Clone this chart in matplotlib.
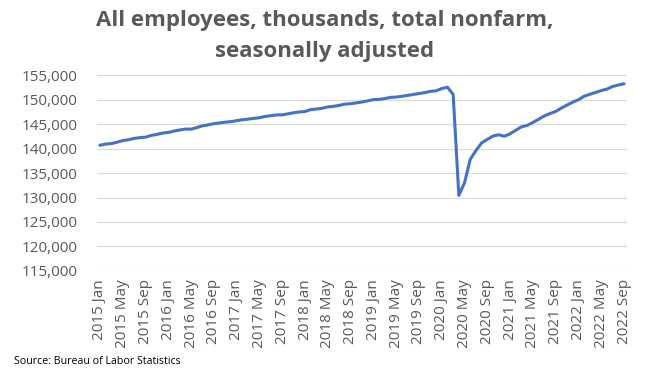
import matplotlib.pyplot as plt
import numpy as np

# total nonfarm employment, thousands, monthly 2015 Jan - 2022 Sep
years = list(range(2015, 2023))
months = ["Jan", "Feb", "Mar", "Apr", "May", "Jun", "Jul", "Aug", "Sep", "Oct", "Nov", "Dec"]

employees = [
    140656, 140915, 140998, 141290, 141610, 141788, 142065, 142216, 142314, 142665, 142884, 143154,
    143283, 143553, 143781, 143963, 143962, 144264, 144636, 144821, 145068, 145220, 145384, 145490,
    145686, 145871, 145995, 146158, 146278, 146550, 146703, 146860, 146877, 147079, 147297, 147465,
    147549, 147944, 148056, 148220, 148496, 148610, 148803, 149071, 149148, 149316, 149499, 149726,
    149995, 150024, 150194, 150440, 150503, 150670, 150837, 151035, 151224, 151403, 151663, 151781,
    152234, 152523, 151035, 130424, 133026, 137800, 139566, 141149, 141865, 142545, 142809, 142503,
    143017, 143727, 144431, 144708, 145322, 145967, 146657, 147140, 147564, 148265, 148879, 149465,
    149969, 150683, 151081, 151449, 151837, 152136, 152673, 152965, 153228,
]

labels = []
for y in years:
    for m in months:
        labels.append(f"{y} {m}")
labels = labels[:len(employees)]

grey = "#595959"
plt.rcParams['font.family'] = ['Open Sans', 'DejaVu Sans']

fig = plt.figure(figsize=(6.49, 3.79), dpi=100)
ax = fig.add_axes([0.1495, 0.285, 0.8165, 0.517])

x = np.arange(len(employees))
ax.plot(x, employees, color="#4472C4", linewidth=2.2, solid_capstyle="round")

ax.set_xlim(-0.5, len(employees) - 0.5)
ax.set_ylim(115000, 155000)
ax.set_yticks(np.arange(115000, 155001, 5000))
ax.set_yticklabels([f"{v:,}" for v in range(115000, 155001, 5000)], color=grey, fontsize=11)
ax.set_xticks(x[::4])
ax.set_xticklabels(labels[::4], rotation=90, color=grey, fontsize=11)

ax.grid(axis="y", color="#D9D9D9", linewidth=0.8)
ax.set_axisbelow(True)
for s in ax.spines.values():
    s.set_visible(False)
ax.tick_params(axis="y", length=0, pad=14)
ax.tick_params(axis="x", length=0, pad=6)

fig.text(0.5, 0.945, "All employees, thousands, total nonfarm,", ha="center", va="center",
         fontsize=16, fontweight="bold", color=grey)
fig.text(0.5, 0.865, "seasonally adjusted", ha="center", va="center",
         fontsize=16, fontweight="bold", color=grey)
fig.text(0.022, 0.045, "Source: Bureau of Labor Statistics", ha="left", va="center",
         fontsize=7.7, color="black")

fig.savefig("out.png", dpi=100)
